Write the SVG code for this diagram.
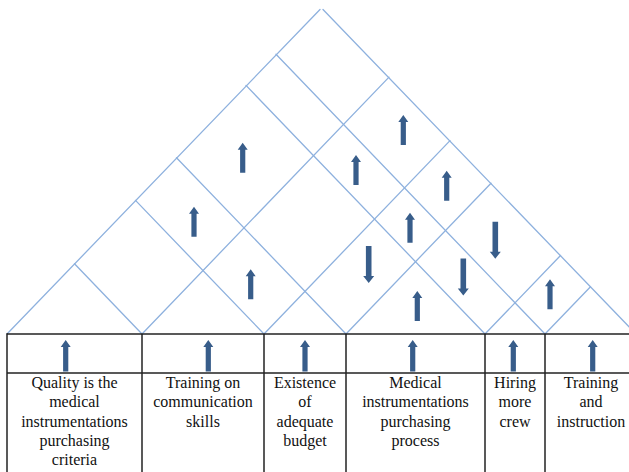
<svg xmlns="http://www.w3.org/2000/svg" xmlns:xlink="http://www.w3.org/1999/xlink" width="629" height="472" viewBox="0 0 629 472">
<style>
.roof{stroke:#8EB1DE;stroke-width:1.3;fill:none;stroke-linecap:round}
.tbl{stroke:#222;stroke-width:1.5;fill:none}
.arr{fill:#385D8A}
.lbl{font-family:'Liberation Serif','DejaVu Serif',serif;font-size:16px;fill:#111;text-anchor:middle}
</style>
<defs>
<path id="up" class="arr" d="M0,0 L5,7 L2.6,7 L2.6,30 L-2.6,30 L-2.6,7 L-5,7 Z"/>
<path id="upT" class="arr" d="M0,0 L5,7 L2.6,7 L2.6,31.5 L-2.6,31.5 L-2.6,7 L-5,7 Z"/>
<path id="down" class="arr" d="M-2.8,0 L2.8,0 L2.8,30 L5.5,30 L0,37 L-5.5,30 L-2.8,30 Z"/>
</defs>
<rect width="629" height="472" fill="#fff"/>
<g id="connectors">
<line class="roof" x1="7" y1="334" x2="320" y2="9.5"/>
<line class="roof" x1="636" y1="334" x2="323" y2="9.5"/>
<line class="roof" x1="142" y1="334" x2="389" y2="77.1"/>
<line class="roof" x1="264" y1="334" x2="450" y2="140.6"/>
<line class="roof" x1="346" y1="334" x2="491" y2="183.2"/>
<line class="roof" x1="485" y1="334" x2="560.5" y2="255.5"/>
<line class="roof" x1="545" y1="334" x2="590.5" y2="286.7"/>
<line class="roof" x1="142" y1="334" x2="74.5" y2="263.8"/>
<line class="roof" x1="264" y1="334" x2="135.5" y2="200.4"/>
<line class="roof" x1="346" y1="334" x2="176.5" y2="157.7"/>
<line class="roof" x1="485" y1="334" x2="246" y2="85.4"/>
<line class="roof" x1="545" y1="334" x2="276" y2="54.2"/>
</g>
<g id="roof-arrows">
<use href="#up" x="242.7" y="142.7"/>
<use href="#up" x="194" y="206.7"/>
<use href="#up" x="250.7" y="269.3"/>
<use href="#up" x="403.3" y="115"/>
<use href="#up" x="356" y="155"/>
<use href="#up" x="446.7" y="170.7"/>
<use href="#up" x="410" y="212.7"/>
<use href="#down" x="368.7" y="246"/>
<use href="#down" x="495.3" y="221.7"/>
<use href="#down" x="463.3" y="258.5"/>
<use href="#up" x="417.3" y="291"/>
<use href="#up" x="550" y="279.3"/>
</g>
<g id="table-frame">
<line class="tbl" x1="7" y1="334" x2="640" y2="334"/>
<line class="tbl" x1="7" y1="373" x2="640" y2="373"/>
<line class="tbl" x1="7" y1="333.25" x2="7" y2="480"/>
<line class="tbl" x1="142" y1="334" x2="142" y2="480"/>
<line class="tbl" x1="264" y1="334" x2="264" y2="480"/>
<line class="tbl" x1="346" y1="334" x2="346" y2="480"/>
<line class="tbl" x1="485" y1="334" x2="485" y2="480"/>
<line class="tbl" x1="545" y1="334" x2="545" y2="480"/>
<line class="tbl" x1="637" y1="334" x2="637" y2="480"/>
</g>
<g id="col1">
<use href="#upT" x="65.7" y="340"/>
<text class="lbl" font-family="'Liberation Serif', serif" x="74.5"><tspan x="74.5" y="388">Quality is the</tspan><tspan x="74.5" y="407.3">medical</tspan><tspan x="74.5" y="426.6">instrumentations</tspan><tspan x="74.5" y="445.9">purchasing</tspan><tspan x="74.5" y="465.2">criteria</tspan></text>
</g>
<g id="col2">
<use href="#upT" x="208.3" y="340"/>
<text class="lbl" font-family="'Liberation Serif', serif" x="203"><tspan x="203" y="388">Training on</tspan><tspan x="203" y="407.3">communication</tspan><tspan x="203" y="426.6">skills</tspan></text>
</g>
<g id="col3">
<use href="#upT" x="305" y="340"/>
<text class="lbl" font-family="'Liberation Serif', serif" x="305"><tspan x="305" y="388">Existence</tspan><tspan x="305" y="407.3">of</tspan><tspan x="305" y="426.6">adequate</tspan><tspan x="305" y="445.9">budget</tspan></text>
</g>
<g id="col4">
<use href="#upT" x="412.7" y="340"/>
<text class="lbl" font-family="'Liberation Serif', serif" x="415.5"><tspan x="415.5" y="388">Medical</tspan><tspan x="415.5" y="407.3">instrumentations</tspan><tspan x="415.5" y="426.6">purchasing</tspan><tspan x="415.5" y="445.9">process</tspan></text>
</g>
<g id="col5">
<use href="#upT" x="513.3" y="340"/>
<text class="lbl" font-family="'Liberation Serif', serif" x="515"><tspan x="515" y="388">Hiring</tspan><tspan x="515" y="407.3">more</tspan><tspan x="515" y="426.6">crew</tspan></text>
</g>
<g id="col6">
<use href="#upT" x="592.7" y="340"/>
<text class="lbl" font-family="'Liberation Serif', serif" x="591"><tspan x="591" y="388">Training</tspan><tspan x="591" y="407.3">and</tspan><tspan x="591" y="426.6">instruction</tspan></text>
</g>
</svg>
